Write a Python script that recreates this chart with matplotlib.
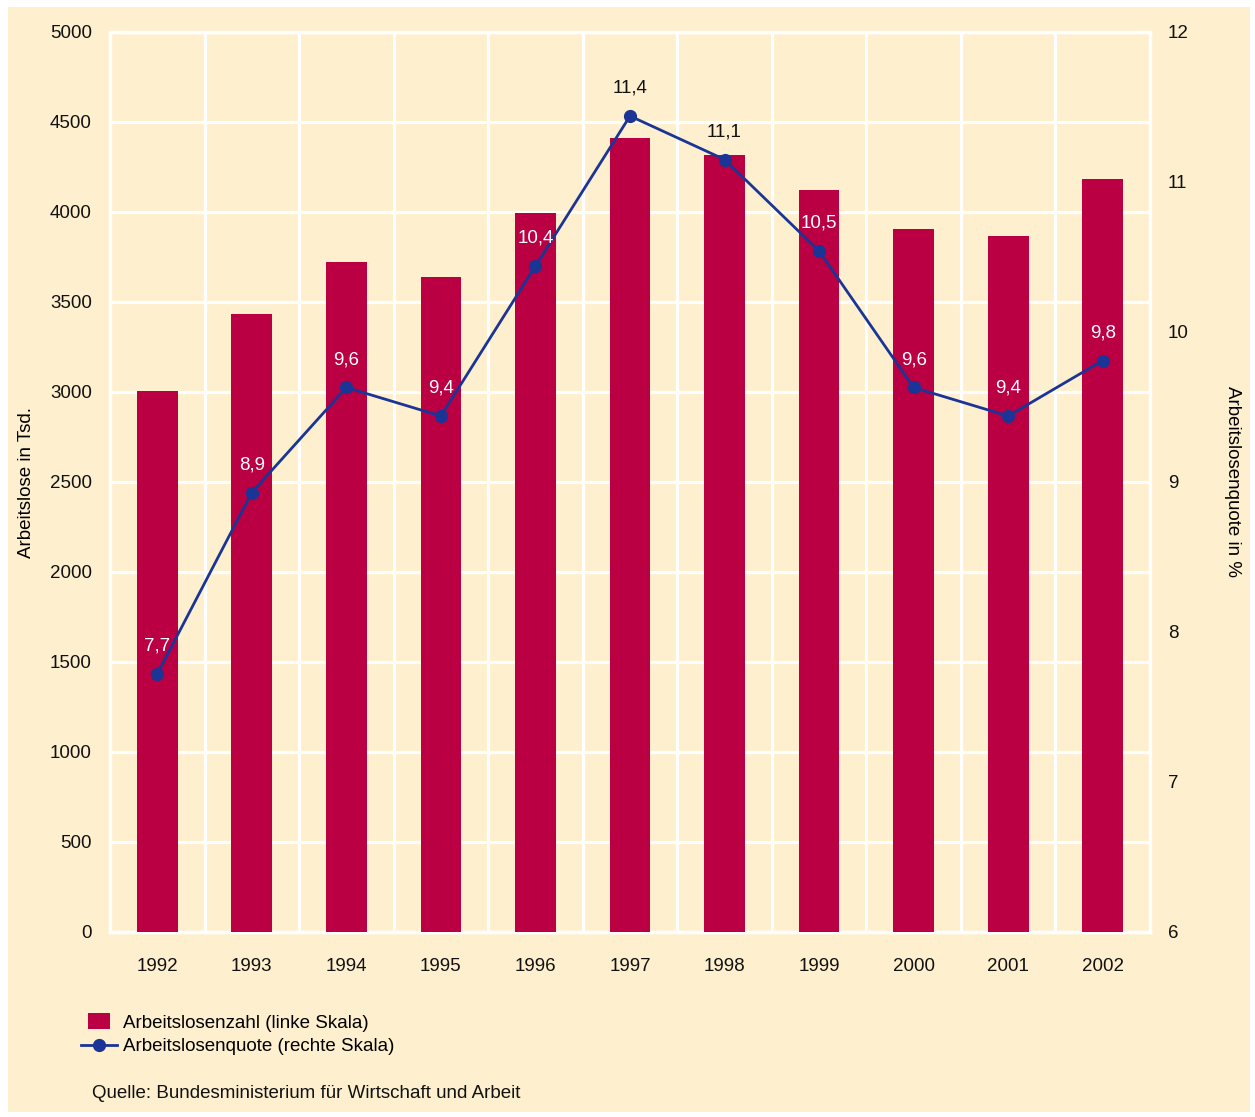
import numpy as np
import matplotlib.pyplot as plt
from matplotlib.patches import Rectangle
from matplotlib.lines import Line2D

plt.rcParams['font.family'] = ['Liberation Sans', 'DejaVu Sans']

years = ['1992', '1993', '1994', '1995', '1996', '1997', '1998', '1999', '2000', '2001', '2002']
arbeitslose = [3006, 3433, 3722, 3639, 3994, 4411, 4317, 4122, 3906, 3867, 4183]
quote = [7.72, 8.93, 9.63, 9.44, 10.44, 11.44, 11.15, 10.54, 9.63, 9.44, 9.81]
quote_labels = ['7,7', '8,9', '9,6', '9,4', '10,4', '11,4', '11,1', '10,5', '9,6', '9,4', '9,8']

bg = '#FEF0CF'
bar_col = '#BA0042'
line_col = '#1A3595'
fs = 13.5

fig = plt.figure(figsize=(12.55, 11.17), dpi=100)
fig.patch.set_facecolor('white')
fig.add_artist(Rectangle((8 / 1255, 5 / 1117), 1242 / 1255, 1105 / 1117,
                         transform=fig.transFigure, facecolor=bg, edgecolor='none', zorder=-10))

ax = fig.add_axes([110 / 1255, 1 - 932 / 1117, 1040 / 1255, 900 / 1117])
ax.set_facecolor(bg)
x = np.arange(len(years))
ax.bar(x, arbeitslose, width=0.43, color=bar_col, zorder=3)
ax.set_xlim(-0.5, len(years) - 0.5)
ax.set_ylim(0, 5000)
ax.set_yticks(np.arange(0, 5001, 500))
ax.set_xticks(x)
ax.set_xticklabels(years)
ax.tick_params(length=0, labelsize=fs, colors='#111111')
ax.tick_params(axis='x', pad=19)
ax.tick_params(axis='y', pad=13)
ax.grid(axis='y', color='white', linewidth=2.2, zorder=1)
for b in np.arange(0.5, len(years) - 1, 1):
    ax.axvline(b, color='white', linewidth=2.2, zorder=1)
for s in ax.spines.values():
    s.set_color('white')
    s.set_linewidth(2.5)
ax.set_ylabel('Arbeitslose in Tsd.', fontsize=fs)
ax.yaxis.set_label_coords(-0.072, 0.5)

ax2 = ax.twinx()
ax2.set_ylim(6, 12)
ax2.set_yticks(range(6, 13))
ax2.tick_params(length=0, labelsize=fs, colors='#111111', pad=13)
for s in ax2.spines.values():
    s.set_visible(False)
ax2.plot(x, quote, color=line_col, linewidth=2, marker='o', markersize=8.5, zorder=5)
ax2.set_ylabel('Arbeitslosenquote in %', fontsize=fs, rotation=-90, va='center')
ax2.yaxis.set_label_coords(1.079, 0.5)

fig.canvas.draw()
for i, (q, lab) in enumerate(zip(quote, quote_labels)):
    ly = ax2.transData.transform((i, q))[1] + 28
    bar_top = ax.transData.transform((i, arbeitslose[i]))[1]
    c = 'white' if ly < bar_top - 5 else '#111111'
    ax2.annotate(lab, (i, q), xytext=(0, 20), textcoords='offset points',
                 ha='center', va='center', fontsize=fs, color=c, zorder=6)

rect_marker = [(-11, -8), (11, -8), (11, 8), (-11, 8), (-11, -8)]
handles = [Line2D([0], [0], linestyle='none', marker=rect_marker, markersize=15.5,
                  color=bar_col, markeredgewidth=0),
           Line2D([0], [0], color=line_col, linewidth=2, marker='o', markersize=8.5)]
fig.legend(handles, ['Arbeitslosenzahl (linke Skala)', 'Arbeitslosenquote (rechte Skala)'],
           loc='upper left', bbox_to_anchor=(72 / 1255, 1 - 1005 / 1117), frameon=False,
           fontsize=fs, handlelength=1.9, handletextpad=0.3, labelspacing=0.35, borderpad=0)

fig.text(92 / 1255, 1 - 1093 / 1117, 'Quelle: Bundesministerium für Wirtschaft und Arbeit',
         fontsize=fs, va='center', ha='left', color='#111111')

fig.savefig('out.png', dpi=100, facecolor='white')
